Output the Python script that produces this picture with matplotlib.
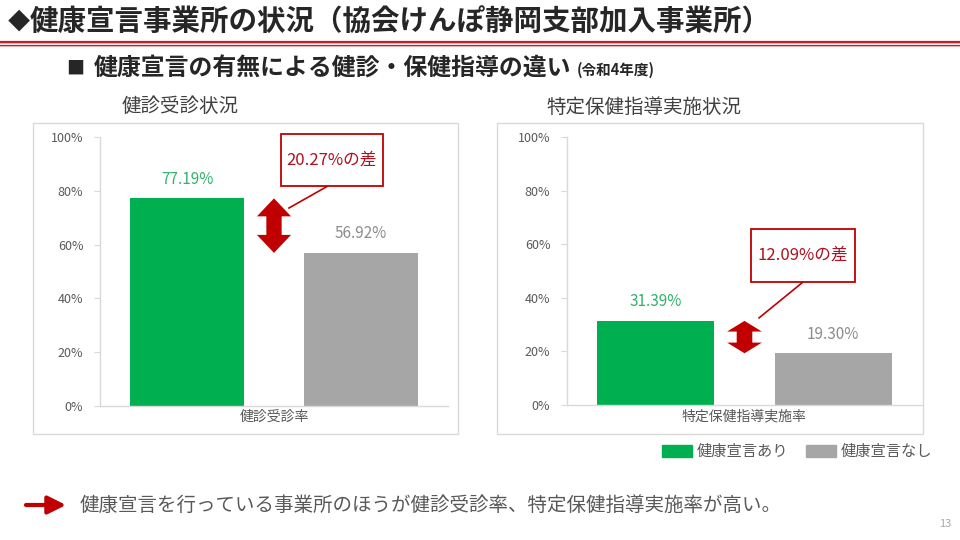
import matplotlib.pyplot as plt
from matplotlib.patches import Rectangle, Polygon
from matplotlib.lines import Line2D

plt.rcParams['font.family'] = ['Noto Sans CJK JP', 'DejaVu Sans']

# data
chart_titles = ['健診受診状況', '特定保健指導実施状況']
categories = ['健診受診率', '特定保健指導実施率']
series_labels = ['健康宣言あり', '健康宣言なし']
with_decl = [77.19, 31.39]
without_decl = [56.92, 19.30]
y_ticks = [0, 20, 40, 60, 80, 100]

GREEN = '#00b050'
GRAY = '#a6a6a6'
RED = '#c00000'
W, H = 960, 540


def fx(x):
    return x / W


def fy(y):
    return 1 - y / H


fig = plt.figure(figsize=(9.6, 5.4), dpi=100)

# header
fig.text(fx(8), fy(22), '◆', fontsize=16, fontweight='bold', color='#262626',
         va='center', ha='left')
fig.text(fx(30), fy(22), '健康宣言事業所の状況（協会けんぽ静岡支部加入事業所）',
         fontsize=20.5, fontweight='bold', color='#262626', va='center', ha='left')
for y, lw, c in [(41.5, 2.2, '#c0202a'), (43.2, 1.0, '#eab0b0'),
                 (44.7, 1.2, '#c0202a'), (46.3, 1.0, '#eab0b0')]:
    fig.add_artist(Line2D([0, 1], [fy(y), fy(y)], lw=lw * 0.72, color=c,
                          transform=fig.transFigure))
fig.text(fx(66), fy(69), '■', fontsize=13, color='#262626', va='center')
fig.text(fx(94), fy(69), '健康宣言の有無による健診・保健指導の違い',
         fontsize=17.2, fontweight='bold', color='#262626', va='center')
fig.text(fx(577), fy(70), '(令和4年度)', fontsize=10.5, fontweight='bold',
         color='#262626', va='center')

# layout per chart: frame, axes, title pos, label box, connector
frames = [(33, 123, 458, 434), (497, 123, 923, 434)]
axes_px = [(100, 137, 448, 406), (567, 137, 922, 405)]
title_pos = [(180, 107), (644, 107)]
boxes = [(0.52, 0.818, 0.813, 1.011), (0.518, 0.459, 0.811, 0.657)]
connectors = [((0.655, 0.818), (0.543, 0.736)), ((0.665, 0.459), (0.541, 0.325))]

bw = 0.33
off = 0.25
for i in range(2):
    x0, y0, x1, y1 = frames[i]
    fig.add_artist(Rectangle((fx(x0), fy(y1)), fx(x1 - x0), (y1 - y0) / H,
                             transform=fig.transFigure, fill=False,
                             edgecolor='#d9d9d9', lw=1))
    fig.text(fx(title_pos[i][0]), fy(title_pos[i][1]), chart_titles[i],
             fontsize=14, color='#404040', ha='center', va='center')

    a0, b0, a1, b1 = axes_px[i]
    ax = fig.add_axes([fx(a0), fy(b1), fx(a1 - a0), (b1 - b0) / H])
    hi, lo = with_decl[i], without_decl[i]
    ax.bar([-off], [hi], width=bw, color=GREEN)
    ax.bar([off], [lo], width=bw, color=GRAY)
    ax.text(-off, hi + 4, f'{hi:.2f}%', ha='center', va='bottom',
            fontsize=11, color='#2fb36a')
    ax.text(off, lo + 4, f'{lo:.2f}%', ha='center', va='bottom',
            fontsize=11, color='#8c8c8c')

    # double arrow between the two bar tops
    span = hi - lo
    hl = span * 0.33
    hw, sw = 0.049, 0.022
    pts = [(0, hi), (hw, hi - hl), (sw, hi - hl), (sw, lo + hl), (hw, lo + hl),
           (0, lo), (-hw, lo + hl), (-sw, lo + hl), (-sw, hi - hl), (-hw, hi - hl)]
    ax.add_patch(Polygon(pts, closed=True, color=RED, lw=0))

    bx0, by0, bx1, by1 = boxes[i]
    ax.add_patch(Rectangle((bx0, by0), bx1 - bx0, by1 - by0, transform=ax.transAxes,
                           fill=True, facecolor='white', edgecolor=RED, lw=1.3,
                           clip_on=False, zorder=5))
    ax.text((bx0 + bx1) / 2, (by0 + by1) / 2, f'{hi - lo:.2f}%の差',
            transform=ax.transAxes, ha='center', va='center', fontsize=12,
            color='#b01020', zorder=6)
    (cx0, cy0), (cx1, cy1) = connectors[i]
    ax.add_line(Line2D([cx0, cx1], [cy0, cy1], transform=ax.transAxes,
                       color=RED, lw=1.2, clip_on=False))

    ax.set_xlim(-0.5, 0.5)
    ax.set_ylim(0, 100)
    ax.set_yticks(y_ticks)
    ax.set_yticklabels([f'{t}%' for t in y_ticks])
    ax.set_xticks([0])
    ax.set_xticklabels([categories[i]])
    ax.tick_params(axis='y', labelsize=9, colors='#595959', length=4,
                   width=0.8, direction='out', pad=8)
    ax.tick_params(axis='y', color='#d9d9d9')
    ax.tick_params(axis='x', labelsize=10, labelcolor='#595959', length=0, pad=3)
    for s in ['top', 'right']:
        ax.spines[s].set_visible(False)
    for s in ['left', 'bottom']:
        ax.spines[s].set_color('#d9d9d9')
        ax.spines[s].set_linewidth(1)

# legend
leg = [(662, GREEN, series_labels[0]), (806, GRAY, series_labels[1])]
for x, c, lab in leg:
    fig.add_artist(Rectangle((fx(x), fy(457)), fx(30), 12 / H,
                             transform=fig.transFigure, color=c))
    fig.text(fx(x + 35), fy(451), lab, fontsize=11, color='#595959', va='center')

# conclusion
ax0 = fig.axes[0]
ax0.annotate('', xy=(66, H - 505), xytext=(26, H - 505), xycoords='figure pixels',
             textcoords='figure pixels', annotation_clip=False,
             arrowprops=dict(arrowstyle='-|>,head_length=0.9,head_width=0.45',
                             lw=3, color=RED, mutation_scale=12, shrinkA=0, shrinkB=0))
fig.text(fx(80), fy(505), '健康宣言を行っている事業所のほうが健診受診率、特定保健指導実施率が高い。',
         fontsize=14, color='#595959', va='center')
fig.text(fx(951), fy(524), '13', fontsize=8, color='#a6a6a6', ha='right', va='center')

fig.savefig('out.png', dpi=100)
